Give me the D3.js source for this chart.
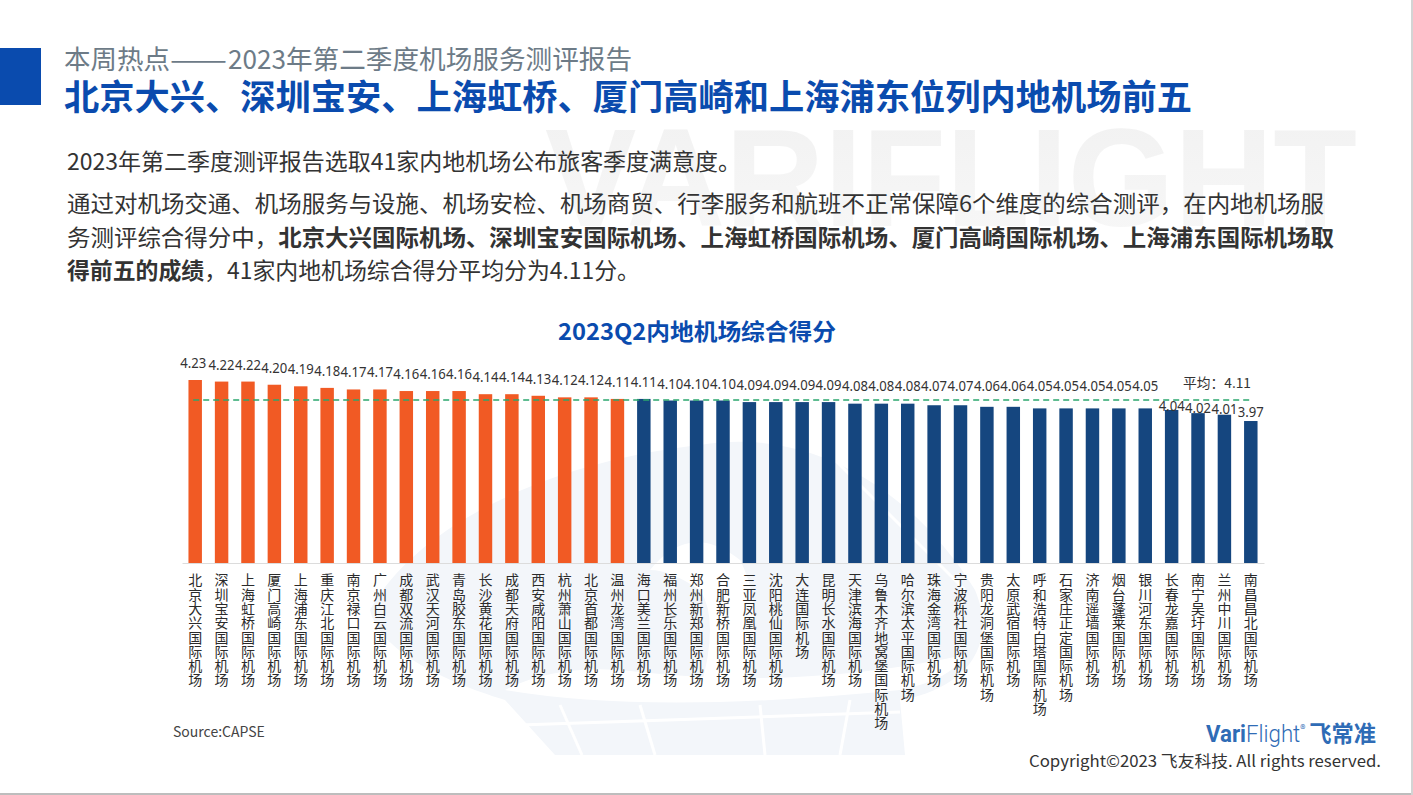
<!DOCTYPE html>
<html>
<head>
<meta charset="utf-8">
<title>2023Q2内地机场综合得分</title>
<script src="https://cdn.jsdelivr.net/npm/d3@7"></script>
<style>
  body { margin: 0; background: #fff; }
  svg { display: block; }
  text { font-family: "Noto Sans CJK SC", "Noto Sans", sans-serif; }
</style>
</head>
<body>
<svg id="slide" width="1413" height="795"></svg>
<script>
// chart data
const airports = [
  "北京大兴国际机场", "深圳宝安国际机场", "上海虹桥国际机场", "厦门高崎国际机场", "上海浦东国际机场",
  "重庆江北国际机场", "南京禄口国际机场", "广州白云国际机场", "成都双流国际机场", "武汉天河国际机场",
  "青岛胶东国际机场", "长沙黄花国际机场", "成都天府国际机场", "西安咸阳国际机场", "杭州萧山国际机场",
  "北京首都国际机场", "温州龙湾国际机场", "海口美兰国际机场", "福州长乐国际机场", "郑州新郑国际机场",
  "合肥新桥国际机场", "三亚凤凰国际机场", "沈阳桃仙国际机场", "大连国际机场", "昆明长水国际机场",
  "天津滨海国际机场", "乌鲁木齐地窝堡国际机场", "哈尔滨太平国际机场", "珠海金湾国际机场", "宁波栎社国际机场",
  "贵阳龙洞堡国际机场", "太原武宿国际机场", "呼和浩特白塔国际机场", "石家庄正定国际机场", "济南遥墙国际机场",
  "烟台蓬莱国际机场", "银川河东国际机场", "长春龙嘉国际机场", "南宁吴圩国际机场", "兰州中川国际机场",
  "南昌昌北国际机场"
];
const scores = [
  4.23, 4.22, 4.22, 4.20, 4.19, 4.18, 4.17, 4.17, 4.16, 4.16,
  4.16, 4.14, 4.14, 4.13, 4.12, 4.12, 4.11, 4.11, 4.10, 4.10,
  4.10, 4.09, 4.09, 4.09, 4.09, 4.08, 4.08, 4.08, 4.07, 4.07,
  4.06, 4.06, 4.05, 4.05, 4.05, 4.05, 4.05, 4.04, 4.02, 4.01,
  3.97
];
const average = 4.11;
const highlightCount = 17;  // first 17 bars are orange

const svg = d3.select("#slide");

// ---- watermark behind everything ----
const defs = svg.append("defs");
const fade = defs.append("linearGradient").attr("id", "fade")
  .attr("x1", 0).attr("y1", 0).attr("x2", 0).attr("y2", 1);
fade.append("stop").attr("offset", 0).attr("stop-color", "#f1f1f1");
fade.append("stop").attr("offset", 1).attr("stop-color", "#f8f8f8");

svg.append("text")
  .attr("x", 545).attr("y", 226)
  .attr("textLength", 812).attr("lengthAdjust", "spacingAndGlyphs")
  .style("font-family", "'Liberation Sans'")
  .style("font-weight", 700)
  .style("font-size", "140px")
  .attr("fill", "url(#fade)")
  .text("VARIFLIGHT");

const globe = svg.append("g");
globe.append("path")
  .attr("d", "M370,610 C420,520 560,460 700,445 C820,425 920,500 975,590 C1000,650 960,690 900,700 L905,755 L555,755 L505,700 C440,680 380,650 370,610Z")
  .attr("fill", "#f3f6fa");
// white bands cut through the globe
globe.append("path")
  .attr("d", "M505,690 Q650,715 900,690 Q950,680 965,655 Q800,690 640,672 Q560,662 505,690Z")
  .attr("fill", "#fff");
globe.append("path")
  .attr("d", "M650,570 Q690,520 740,560 Q770,620 740,690 L700,690 Q720,620 700,590 Q670,570 650,570Z")
  .attr("fill", "#fff");
globe.selectAll("line.grid")
  .data([[560, 705, 582, 755], [640, 705, 655, 755], [760, 705, 765, 755], [850, 700, 840, 755], [520, 725, 900, 712], [800, 425, 965, 590]])
  .join("line")
  .attr("x1", d => d[0]).attr("y1", d => d[1]).attr("x2", d => d[2]).attr("y2", d => d[3])
  .attr("stroke", "#fff").attr("stroke-width", 3);

// ---- slide header and body text ----
svg.append("rect").attr("x", 0).attr("y", 48).attr("width", 41).attr("height", 57).attr("fill", "#0a4bae");

// subtitle is cut in pieces so the dash and the year get their own widths
[["本周热点", 64, 106], ["——", 170, 57], ["2023", 228, 58], ["年第二季度机场服务测评报告", 286, 346]].forEach(p => {
  svg.append("text").attr("x", p[1]).attr("y", 69)
    .attr("textLength", p[2]).attr("lengthAdjust", "spacingAndGlyphs")
    .style("font-size", "26.5px").attr("fill", "#6d7b87")
    .text(p[0]);
});

svg.append("text").attr("x", 64).attr("y", 110)
  .attr("textLength", 1128).attr("lengthAdjust", "spacingAndGlyphs")
  .style("font-size", "35px").style("font-weight", 700).attr("fill", "#0a4bae")
  .text("北京大兴、深圳宝安、上海虹桥、厦门高崎和上海浦东位列内地机场前五");

const bodyLines = [
  { y: 170, w: 674, parts: [["2023年第二季度测评报告选取41家内地机场公布旅客季度满意度。", 400]] },
  { y: 212, w: 1257, parts: [["通过对机场交通、机场服务与设施、机场安检、机场商贸、行李服务和航班不正常保障6个维度的综合测评，在内地机场服", 400]] },
  { y: 246, w: 1267, parts: [["务测评综合得分中，", 400], ["北京大兴国际机场、深圳宝安国际机场、上海虹桥国际机场、厦门高崎国际机场、上海浦东国际机场取", 700]] },
  { y: 279, w: 573, parts: [["得前五的成绩", 700], ["，41家内地机场综合得分平均分为4.11分。", 400]] }
];
bodyLines.forEach(line => {
  const t = svg.append("text").attr("x", 67).attr("y", line.y)
    .attr("textLength", line.w).attr("lengthAdjust", "spacingAndGlyphs")
    .style("font-size", "22.5px").attr("fill", "#333");
  line.parts.forEach(p => t.append("tspan").style("font-weight", p[1]).text(p[0]));
});

svg.append("text").attr("x", 697).attr("y", 340).attr("text-anchor", "middle")
  .attr("textLength", 278).attr("lengthAdjust", "spacingAndGlyphs")
  .style("font-size", "23px").style("font-weight", 700).attr("fill", "#0a4bae")
  .text("2023Q2内地机场综合得分");

// ---- chart ----
const baseY = 563;
const x = d3.scaleBand().domain(airports).range([182, 1264]).paddingInner(0.49).paddingOuter(0.245);
const y = d3.scaleLinear().domain([3.07, 4.23]).range([baseY, 380]);

svg.selectAll("rect.bar")
  .data(scores)
  .join("rect")
  .attr("class", "bar")
  .attr("x", (d, i) => x(airports[i]))
  .attr("y", d => y(d))
  .attr("width", x.bandwidth())
  .attr("height", d => baseY - y(d))
  .attr("fill", (d, i) => i < highlightCount ? "#f15a24" : "#15467f");

// category axis, names run top to bottom
const axis = svg.append("g")
  .attr("transform", "translate(0," + baseY + ")")
  .call(d3.axisBottom(x).tickSize(0).tickSizeOuter(0));
axis.select(".domain").attr("stroke", "#dcdcdc");
axis.selectAll("text")
  .attr("y", 10).attr("dy", null)
  .attr("text-anchor", "start")
  .style("writing-mode", "vertical-rl")
  .style("text-orientation", "upright")
  .style("letter-spacing", "0.3px")
  .style("font-family", "'Noto Sans CJK SC'")
  .style("font-size", "14px")
  .attr("fill", "#2b2b2b");

// average line
const avgLine = d3.line().x(d => x(d) + x.bandwidth() / 2 - (d === airports[0] ? 2 : 0)).y(() => y(average) + 1);
svg.append("path")
  .attr("d", avgLine([airports[0], airports[airports.length - 1]]))
  .attr("fill", "none").attr("stroke", "#2ba66d").attr("stroke-width", 1.5)
  .attr("stroke-dasharray", "6 4");

// value labels: sit above the line, only the last four drop below it
const labelCenter = (d, i) => {
  if (i >= scores.length - 4) return y(d) - (4 + (4.04 - d) * 71);
  return Math.min(y(d) - 17, 385.5);
};
svg.selectAll("text.value")
  .data(scores)
  .join("text")
  .attr("class", "value")
  .attr("x", (d, i) => x(airports[i]) + x.bandwidth() / 2 - (i === 0 ? 2 : 0))
  .attr("y", (d, i) => labelCenter(d, i) + 5)
  .attr("text-anchor", "middle")
  .attr("textLength", 26).attr("lengthAdjust", "spacingAndGlyphs")
  .style("font-family", "'Noto Sans'")
  .style("font-size", "14px")
  .attr("fill", "#333")
  .text(d => d.toFixed(2));

svg.append("text").attr("x", 1183).attr("y", 388)
  .attr("textLength", 68).attr("lengthAdjust", "spacingAndGlyphs")
  .style("font-size", "13.5px").attr("fill", "#333")
  .text("平均：" + average.toFixed(2));

// ---- footer ----
svg.append("text").attr("x", 173).attr("y", 737)
  .style("font-size", "14px").attr("fill", "#444").text("Source:CAPSE");

const logo = svg.append("text").attr("x", 1206).attr("y", 742)
  .attr("textLength", 170).attr("lengthAdjust", "spacingAndGlyphs")
  .style("font-size", "23px").attr("fill", "#2f6cb6");
logo.append("tspan").style("font-family", "Roboto").style("font-weight", 700).text("Vari");
logo.append("tspan").style("font-family", "Roboto").style("font-weight", 300).text("Flight");
logo.append("tspan").style("font-size", "11px").attr("dy", -9).text("®");
logo.append("tspan").style("font-weight", 700).attr("dy", 9).attr("dx", 4).text("飞常准");

svg.append("text").attr("x", 1381).attr("y", 767).attr("text-anchor", "end")
  .attr("textLength", 352).attr("lengthAdjust", "spacingAndGlyphs")
  .style("font-size", "16px").attr("fill", "#333")
  .text("Copyright©2023 飞友科技. All rights reserved.");

// slide edge
svg.append("rect").attr("x", 0).attr("y", 793).attr("width", 1413).attr("height", 2).attr("fill", "#bdbdbd");
svg.append("rect").attr("x", 1411).attr("y", 0).attr("width", 2).attr("height", 795).attr("fill", "#d4d4d4");
</script>
</body>
</html>
